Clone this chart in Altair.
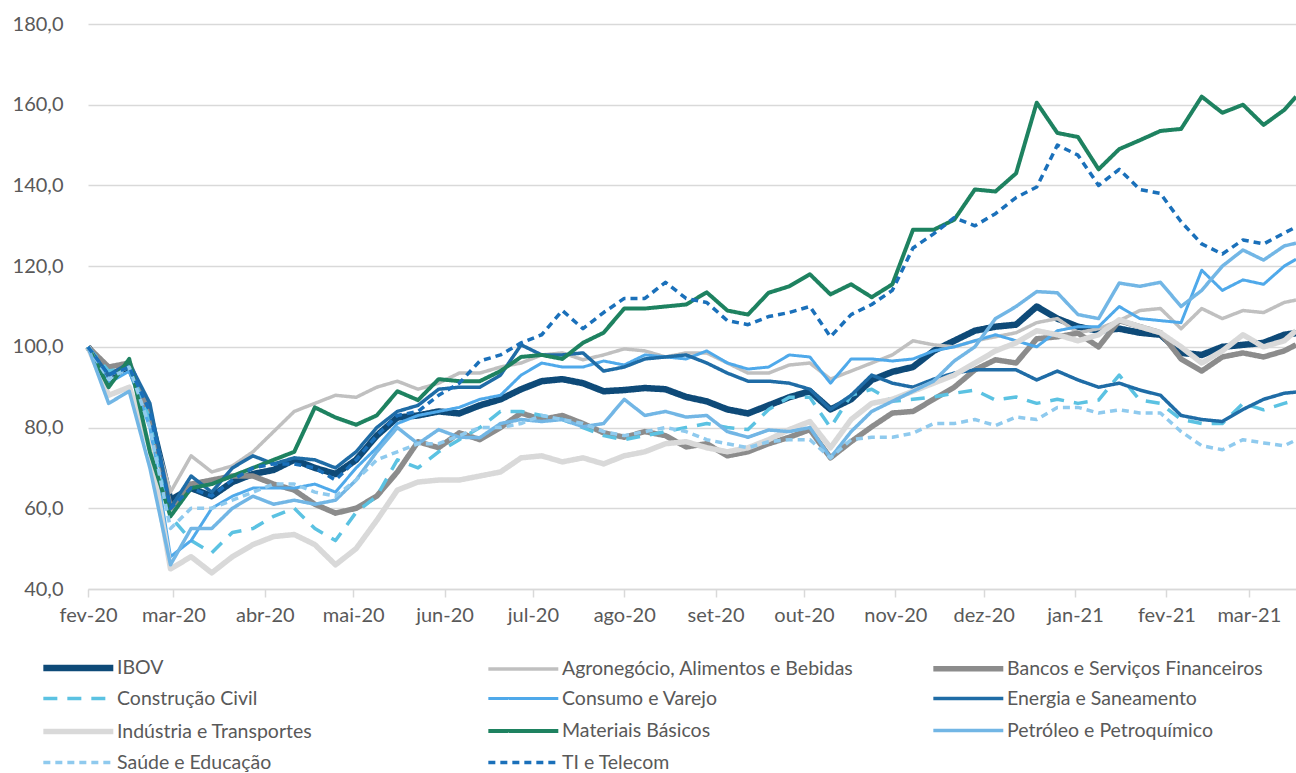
import altair as alt
import pandas as pd

# ---- data (weekly readings, index = 100 at start) ----
series_names = [
    "IBOV",
    "Agronegócio, Alimentos e Bebidas",
    "Bancos e Serviços Financeiros",
    "Construção Civil",
    "Consumo e Varejo",
    "Energia e Saneamento",
    "Indústria e Transportes",
    "Materiais Básicos",
    "Petróleo e Petroquímico",
    "Saúde e Educação",
    "TI e Telecom",
]

dates = [d.strftime("%Y-%m-%d") for d in pd.date_range("2020-02-01", periods=59, freq="7D")] + ["2021-03-17"]

ibov = [100, 93, 95, 83, 62, 65, 63, 66.5, 68.5, 69.5,
        72, 70, 68.5, 72, 78, 82.5, 83, 84, 83.5, 85.5,
        87, 89.5, 91.5, 92, 91, 89, 89.3, 89.8, 89.5, 87.6,
        86.5, 84.5, 83.5, 85.5, 87.5, 89, 84.5, 87, 91.8, 93.8,
        95, 99, 101.5, 104, 105, 105.5, 110, 107, 105, 104,
        104.5, 103.5, 103, 98.5, 98, 100, 100.5, 101, 103, 103.4]
agro = [100, 93, 95, 82, 64, 73, 69, 70.5, 74, 79,
        84, 86, 88, 87.5, 90, 91.5, 89.5, 91, 93.5, 93.5,
        95, 96, 98, 98.5, 96.8, 98, 99.5, 99, 97.5, 98.5,
        98.5, 96, 93.5, 93.5, 95.5, 96, 92, 94, 96, 98,
        101.5, 100.5, 100, 101.5, 102.5, 103.5, 106, 107, 103.5, 104.5,
        106.5, 109, 109.5, 104.5, 109.5, 107, 109, 108.5, 111, 111.6]
bancos = [100, 95, 96, 83, 60, 66, 67, 68, 68, 66,
          64.5, 61, 58.8, 60, 63, 69, 76.5, 75, 78.7, 77,
          80, 83.6, 82, 83, 81, 78.7, 77.6, 79, 78, 75.2,
          76, 73, 74, 76, 77.6, 79.5, 72.5, 76.5, 80.2, 83.6,
          84, 87, 90, 94.3, 96.8, 96, 102, 102.5, 103.4, 100,
          106.5, 105, 103.5, 97, 94, 97.5, 98.5, 97.5, 99, 100.5]
construcao = [100, 94, 95, 82, 58, 52, 49, 54, 55, 58,
              60, 55, 52, 59, 63, 72, 70, 74, 77, 80,
              84, 84, 83, 82, 80, 78, 77, 78, 79, 80,
              81, 80, 79.5, 84.5, 87.5, 87.5, 80, 88, 89.5, 86.5,
              87, 87.6, 88.5, 89.3, 86.8, 87.6, 86, 87, 86, 86.8,
              93, 86.8, 86, 82, 81, 81, 86, 84.4, 86, 86.8]
consumo = [100, 91, 94, 80, 48, 52, 60, 63, 65, 65,
           65, 66, 64, 70, 75, 81, 83, 84, 85, 87,
           88, 93, 96, 95, 95, 96.5, 95.5, 98, 97.5, 97,
           99, 96, 94.5, 95, 98, 97.5, 91, 97, 97, 96.5,
           97, 99, 100, 101.5, 103, 101.5, 100, 104, 105, 105,
           110, 107, 106.5, 106, 119, 114, 116.6, 115.5, 120, 121.7]
energia = [100, 93, 96, 86, 60, 68, 64, 70, 73, 71,
           72.5, 72, 70, 74, 80, 84, 85.5, 89.5, 90, 90,
           93, 100.5, 98, 98, 98.5, 94, 95, 97, 97.5, 98,
           96, 93.5, 91.5, 91.5, 91, 89.5, 84.5, 88, 93, 91,
           90, 92, 93.5, 94.3, 94.3, 94.3, 91.8, 94, 91.8, 90,
           91, 89.3, 88, 83, 82, 81.5, 84.5, 87, 88.5, 88.8]
industria = [100, 88, 90, 75, 45, 48, 44, 48, 51, 53,
             53.5, 51, 46, 50, 57, 64.5, 66.5, 67, 67, 68,
             69, 72.5, 73, 71.5, 72.5, 71, 73, 74, 76, 76.5,
             75, 74, 75, 77, 79.5, 81.5, 75, 82, 86, 87,
             89, 91, 93, 96, 99, 101, 104, 103, 101.5, 103,
             106.7, 105, 103.5, 100, 96, 99, 103, 100, 101.5, 104]
materiais = [100, 90, 97, 74, 58, 65, 66, 68, 70, 72,
             74, 85, 82.5, 80.7, 83, 89, 86.8, 92, 91.5, 91.5,
             94, 97.5, 98, 97, 101, 103.5, 109.5, 109.5, 110, 110.5,
             113.5, 109, 108, 113.4, 115, 118, 113, 115.5, 112.3, 115.5,
             129, 129, 131.5, 139, 138.5, 143, 160.5, 153, 152, 144,
             149, 151.2, 153.5, 154, 162, 158, 160, 155, 158.7, 162]
petroleo = [100, 86, 89, 70, 46, 55, 55, 60, 63, 61,
            62, 61, 62, 67, 74, 80, 76, 79.5, 77.6, 77.5,
            81, 82, 81.5, 82, 80.2, 81, 87, 83, 84, 82.6,
            83, 79, 77.6, 79.4, 79, 80, 72.5, 79, 84, 86.5,
            89, 91.5, 96.5, 100, 107, 110, 113.7, 113.4, 108, 107,
            115.8, 115, 116, 110, 114, 120, 124, 121.5, 125, 125.7]
saude = [100, 92, 95, 80, 55, 60, 60, 62, 64, 66,
         66, 64, 63, 67, 72, 74, 76, 76, 78, 80,
         80, 81, 83, 82, 81, 79, 78, 79, 80, 79,
         77, 76, 75, 76.5, 77, 77, 72.5, 77, 77.6, 77.6,
         78.6, 81, 81, 82, 80.5, 82.6, 82, 85, 85, 83.6,
         84.4, 83.6, 83.6, 79, 75.5, 74.5, 77, 76.2, 75.5, 76.9]
ti = [100, 93, 95, 84, 60, 65, 63, 67, 70, 71,
      71, 70, 67, 72, 78, 83, 84, 88, 91, 96.5,
      98, 101, 103, 109, 104.5, 108.5, 112, 112, 116, 112,
      111, 106.5, 105.5, 107.5, 108.5, 110, 102.5, 108, 110.5, 114,
      124.5, 128, 132, 130, 133, 137, 139.6, 150, 147.5, 140,
      144, 139, 138, 131, 125.5, 123, 126.5, 125.5, 128.2, 129.7]

all_values = [ibov, agro, bancos, construcao, consumo, energia,
              industria, materiais, petroleo, saude, ti]

# ---- styles ----
colors = ["#0E4A78", "#C0C0C0", "#8C8C8C", "#5BC2E2", "#4FA9EA", "#1F6CA6",
          "#D9D9D9", "#1E8260", "#72B6E5", "#8FCAEE", "#1A70BA"]
widths = [6.5, 3.5, 5.5, 3.5, 3, 3.5, 5.5, 4, 3.5, 3.5, 3.5]
dashes = [[1, 0], [1, 0], [1, 0], [14, 10], [1, 0], [1, 0],
          [1, 0], [1, 0], [1, 0], [7, 5], [7, 5]]

rows = []
for name, vals in zip(series_names, all_values):
    for d, v in zip(dates, vals):
        rows.append({"data": d, "serie": name, "valor": v})
df = pd.DataFrame(rows)

month_ticks = [alt.DateTime(year=y, month=m, date=1, utc=True)
               for (y, m) in [(2020, 2), (2020, 3), (2020, 4), (2020, 5), (2020, 6), (2020, 7),
                              (2020, 8), (2020, 9), (2020, 10), (2020, 11), (2020, 12),
                              (2021, 1), (2021, 2), (2021, 3)]]

FONT = "Lato"
month_expr = ("['jan','fev','mar','abr','mai','jun','jul','ago','set','out','nov','dez']"
              "[utcmonth(datum.value)] + '-' + utcFormat(datum.value, '%y')")

legend = alt.Legend(
    title=None, orient="none", legendX=-48, legendY=629, direction="horizontal",
    columns=3, gridAlign="all", columnPadding=68, rowPadding=4,
    symbolType="M-1,0H5", symbolSize=544, labelFont=FONT, labelFontSize=19.5,
    labelColor="#595959", labelOffset=47, labelLimit=400,
)

chart = alt.Chart(df).mark_line(strokeJoin="round").encode(
    x=alt.X("data:T", title=None,
            scale=alt.Scale(type="utc",
                            domain=[alt.DateTime(year=2020, month=2, date=1, utc=True),
                                    alt.DateTime(year=2021, month=3, date=17, utc=True)]),
            axis=alt.Axis(values=month_ticks, labelExpr=month_expr, grid=False,
                          labelOverlap=False, labelFlush=False,
                          domainColor="#D9D9D9", domainWidth=1.5, tickColor="#D9D9D9",
                          tickWidth=1.5, tickSize=8, labelFont=FONT, labelFontSize=20,
                          labelColor="#595959", labelPadding=8, labelAngle=0)),
    y=alt.Y("valor:Q", title=None,
            scale=alt.Scale(domain=[40, 180], nice=False, zero=False),
            axis=alt.Axis(values=list(range(40, 181, 20)),
                          labelExpr="replace(format(datum.value, '.1f'), '.', ',')",
                          grid=True, gridColor="#D9D9D9", gridWidth=1.5, domain=False,
                          ticks=False, labelFont=FONT, labelFontSize=20,
                          labelColor="#595959", labelPadding=25)),
    color=alt.Color("serie:N", sort=series_names,
                    scale=alt.Scale(domain=series_names, range=colors), legend=legend),
    strokeDash=alt.StrokeDash("serie:N", sort=series_names,
                              scale=alt.Scale(domain=series_names, range=dashes), legend=legend),
    strokeWidth=alt.StrokeWidth("serie:N", sort=series_names,
                                scale=alt.Scale(type="ordinal", domain=series_names, range=widths),
                                legend=legend),
    detail="serie:N",
).properties(
    width=1208, height=565,
    padding={"left": 88, "top": 24, "right": 0, "bottom": 184},
    autosize=alt.AutoSizeParams(type="none"),
    background="#FFFFFF",
).configure_view(stroke=None)

chart.save("out.html", embed_options={"renderer": "svg", "actions": False})
